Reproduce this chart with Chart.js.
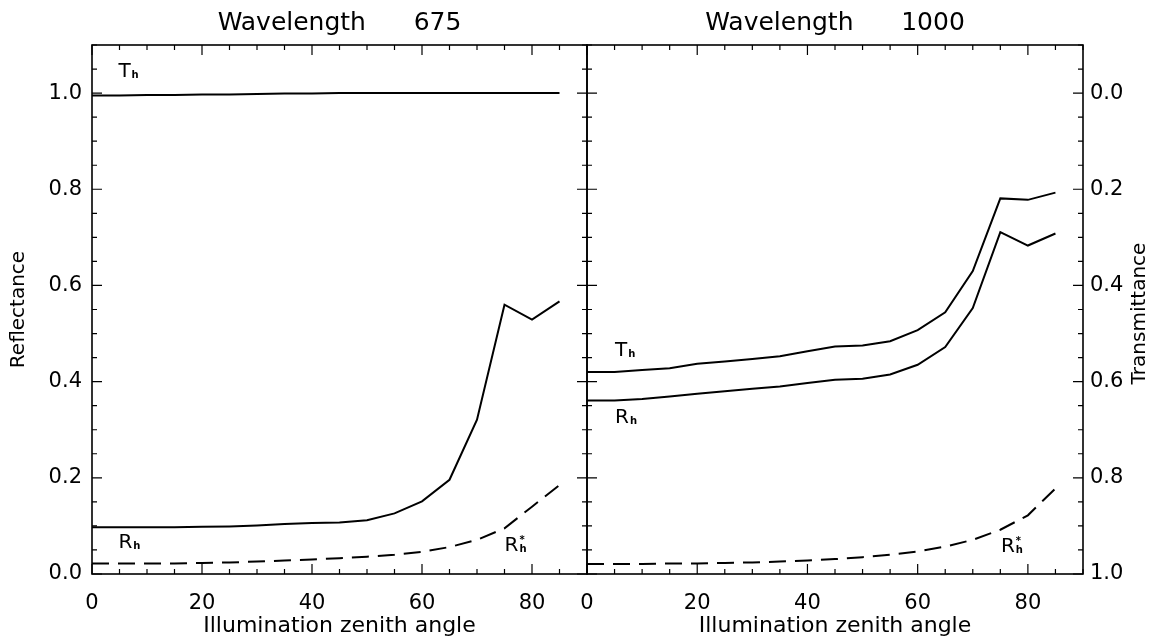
<!DOCTYPE html>
<html>
<head>
<meta charset="utf-8">
<title>Reflectance and transmittance vs illumination zenith angle</title>
<script src="https://cdn.jsdelivr.net/npm/chart.js@4/dist/chart.umd.min.js"></script>
<style>
html, body { margin: 0; padding: 0; background: #fff; }
#wrap { position: relative; width: 1154px; height: 639px; }
#left { position: absolute; left: 0; top: 0; }
#right { position: absolute; left: 577px; top: 0; }
</style>
</head>
<body>
<div id="wrap">
	<canvas id="left" width="600" height="639"></canvas>
	<canvas id="right" width="577" height="639"></canvas>
</div>
<script>
// illumination zenith angle (degrees)
var angles = [0, 5, 10, 15, 20, 25, 30, 35, 40, 45, 50, 55, 60, 65, 70, 75, 80, 85];

// wavelength 675
var reflect675 = [0.097, 0.097, 0.097, 0.097, 0.098, 0.099, 0.101, 0.104, 0.106, 0.107, 0.112, 0.126, 0.151, 0.196, 0.321, 0.560, 0.529, 0.567];
var trans675 = [0.005, 0.005, 0.004, 0.004, 0.003, 0.003, 0.002, 0.001, 0.001, 0.0, 0.0, 0.0, 0.0, 0.0, 0.0, 0.0, 0.0, 0.0];
var reflectStar675 = [0.022, 0.022, 0.022, 0.022, 0.023, 0.024, 0.026, 0.028, 0.030, 0.033, 0.036, 0.040, 0.046, 0.056, 0.071, 0.095, 0.140, 0.185];

// wavelength 1000
var reflect1000 = [0.361, 0.361, 0.364, 0.369, 0.375, 0.380, 0.385, 0.390, 0.397, 0.404, 0.406, 0.415, 0.435, 0.472, 0.553, 0.711, 0.683, 0.708];
var trans1000 = [0.580, 0.580, 0.576, 0.572, 0.563, 0.558, 0.553, 0.547, 0.537, 0.527, 0.525, 0.516, 0.493, 0.456, 0.370, 0.219, 0.222, 0.207];
var reflectStar1000 = [0.021, 0.021, 0.021, 0.022, 0.022, 0.023, 0.024, 0.026, 0.028, 0.031, 0.035, 0.040, 0.047, 0.057, 0.071, 0.092, 0.122, 0.178];

// tick steps
var xMajor = 20, xMinor = 5;
var yMajor = 0.2, yMinor = 0.05;

var FONT = '"DejaVu Sans", sans-serif';

function points(ys) {
	return angles.map(function(a, i){ return { x: a, y: ys[i] }; });
}

function isMajorY(v) {
	var k = v / yMajor;
	return Math.abs(k - Math.round(k)) < 1e-6;
}

function solid(data, axis) {
	return { data: points(data), yAxisID: axis, borderColor: '#000', borderWidth: 2, pointRadius: 0, tension: 0, fill: false };
}

function dashed(data) {
	return { data: points(data), yAxisID: 'y', borderColor: '#000', borderWidth: 2, borderDash: [17, 9], pointRadius: 0, tension: 0, fill: false };
}

// frame with inward ticks on all four sides, plus panel title and curve labels
function panelPlugin(title, notes, sideTitle) {
	return {
		id: 'panel',
		afterDraw: function(chart) {
			var ctx = chart.ctx, a = chart.chartArea;
			var xs = chart.scales.x;
			var vs = chart.scales.y.ticks.length ? chart.scales.y : chart.scales.t;
			ctx.save();
			ctx.strokeStyle = '#000';
			ctx.fillStyle = '#000';
			ctx.lineWidth = 1.6;
			ctx.strokeRect(a.left, a.top, a.right - a.left, a.bottom - a.top);
			ctx.lineWidth = 1.2;
			ctx.beginPath();
			xs.ticks.forEach(function(t){
				var p = xs.getPixelForValue(t.value);
				var len = t.value % xMajor === 0 ? 10 : 5;
				ctx.moveTo(p, a.bottom); ctx.lineTo(p, a.bottom - len);
				ctx.moveTo(p, a.top); ctx.lineTo(p, a.top + len);
			});
			vs.ticks.forEach(function(t){
				var p = vs.getPixelForValue(t.value);
				var len = isMajorY(t.value) ? 10 : 5;
				ctx.moveTo(a.left, p); ctx.lineTo(a.left + len, p);
				ctx.moveTo(a.right, p); ctx.lineTo(a.right - len, p);
			});
			ctx.stroke();

			// panel title
			ctx.font = '25px ' + FONT;
			ctx.textAlign = 'center';
			ctx.textBaseline = 'middle';
			ctx.fillText(title, (a.left + a.right) / 2, 23);

			// right axis title, reads bottom to top
			if (sideTitle) {
				ctx.save();
				ctx.translate(chart.width - 14, (a.top + a.bottom) / 2 + 4);
				ctx.rotate(-Math.PI / 2);
				ctx.font = '20px ' + FONT;
				ctx.fillText(sideTitle, 0, 0);
				ctx.restore();
			}

			// curve labels
			ctx.textAlign = 'left';
			ctx.textBaseline = 'alphabetic';
			notes.forEach(function(n){
				var px = xs.getPixelForValue(n.x);
				var py = chart.scales.y.getPixelForValue(n.y);
				ctx.font = '20px ' + FONT;
				ctx.fillText(n.text, px, py);
				var w = ctx.measureText(n.text).width;
				ctx.font = 'bold 10px ' + FONT;
				ctx.fillText(n.sub, px + w + 1, py + 1);
				if (n.sup) ctx.fillText(n.sup, px + w + 1, py - 8);
			});
			ctx.restore();
		}
	};
}

var notes675 = [
	{ text: 'T', sub: 'h', x: 4.8, y: 1.033 },
	{ text: 'R', sub: 'h', x: 4.8, y: 0.054 },
	{ text: 'R', sub: 'h', sup: '*', x: 75, y: 0.048 }
];
var notes1000 = [
	{ text: 'T', sub: 'h', x: 5.1, y: 0.454 },
	{ text: 'R', sub: 'h', x: 5.1, y: 0.315 },
	{ text: 'R', sub: 'h', sup: '*', x: 75.1, y: 0.046 }
];

function xScale() {
	return {
		type: 'linear', min: 0, max: 90,
		grid: { display: false, drawTicks: false },
		border: { display: false },
		ticks: {
			stepSize: xMinor, autoSkip: false, maxRotation: 0, padding: 17,
			color: '#000', font: { family: FONT, size: 21 },
			callback: function(v){ return v % xMajor === 0 ? String(v) : ''; }
		},
		title: { display: true, text: 'Illumination zenith angle', color: '#000', font: { family: FONT, size: 22 }, padding: 0 },
		afterFit: function(s){
			s.height = 65;
			s.paddingLeft = 0;
			s.paddingRight = 0;
		}
	};
}

function yTicks() {
	return {
		stepSize: yMinor, autoSkip: false, color: '#000', font: { family: FONT, size: 21 },
		callback: function(v){ return isMajorY(v) ? Math.abs(v).toFixed(1) : ''; }
	};
}

var common = {
	responsive: false,
	animation: false,
	events: [],
	plugins: { legend: { display: false }, tooltip: { enabled: false } }
};

window.addEventListener('load', function(event){
	var leftCtx = document.getElementById('left').getContext('2d');
	new Chart(leftCtx, {
		type: 'line',
		data: {
			datasets: [
				solid(trans675, 't'),
				solid(reflect675, 'y'),
				dashed(reflectStar675)
			]
		},
		options: Object.assign({}, common, {
			layout: { padding: { top: 45, right: 13, left: 0, bottom: 0 } },
			scales: {
				x: xScale(),
				y: {
					type: 'linear', position: 'left', min: 0, max: 1.1,
					grid: { display: false, drawTicks: false },
					border: { display: false },
					ticks: Object.assign(yTicks(), { padding: 10 }),
					title: { display: true, text: 'Reflectance', color: '#000', font: { family: FONT, size: 20 }, padding: { top: 7, bottom: 0 } },
					afterFit: function(s){ s.width = 92; }
				},
				t: { type: 'linear', display: false, reverse: true, min: -0.1, max: 1.0 }
			}
		}),
		plugins: [panelPlugin('Wavelength      675', notes675, null)]
	});

	var rightCtx = document.getElementById('right').getContext('2d');
	new Chart(rightCtx, {
		type: 'line',
		data: {
			datasets: [
				solid(trans1000, 't'),
				solid(reflect1000, 'y'),
				dashed(reflectStar1000)
			]
		},
		options: Object.assign({}, common, {
			layout: { padding: { top: 45, right: 0, left: 10, bottom: 0 } },
			scales: {
				x: xScale(),
				y: { type: 'linear', display: false, min: 0, max: 1.1, ticks: { stepSize: yMinor } },
				t: {
					type: 'linear', position: 'right', reverse: true, min: -0.1, max: 1.0,
					grid: { display: false, drawTicks: false },
					border: { display: false },
					ticks: Object.assign(yTicks(), { padding: 7 }),
					afterFit: function(s){ s.width = 71; }
				}
			}
		}),
		plugins: [panelPlugin('Wavelength      1000', notes1000, 'Transmittance')]
	});
});
</script>
</body>
</html>
